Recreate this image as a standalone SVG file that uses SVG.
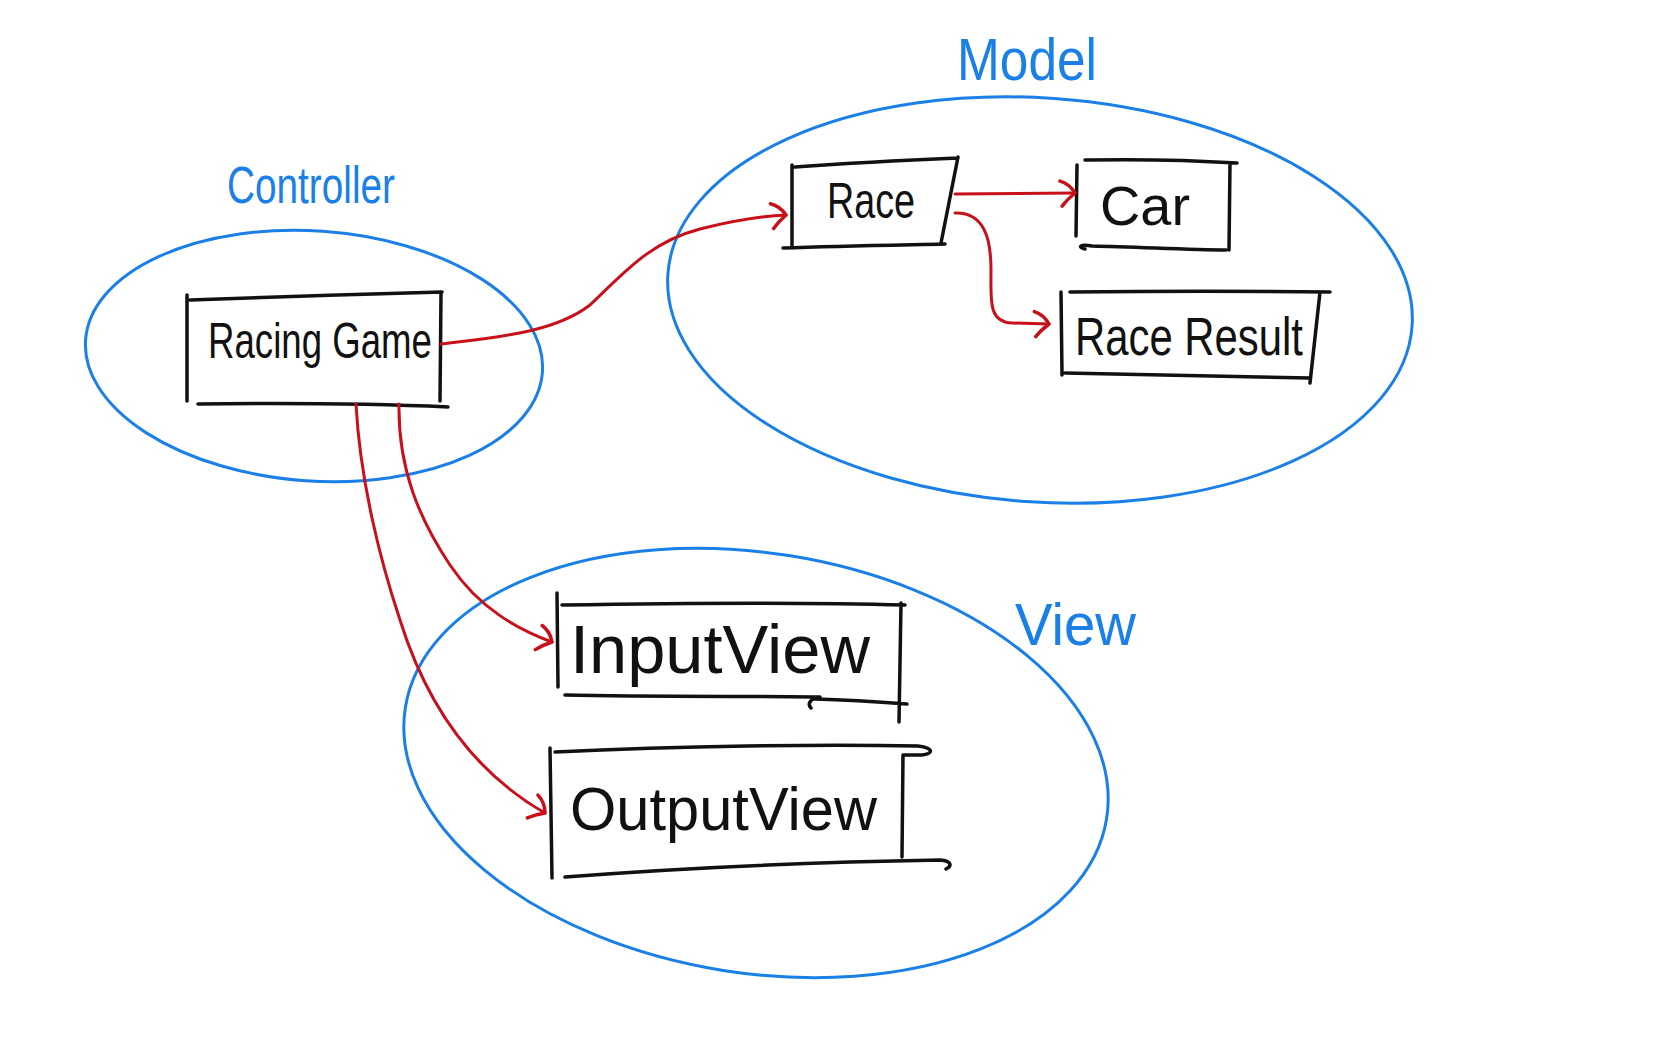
<svg xmlns="http://www.w3.org/2000/svg" width="1662" height="1044" viewBox="0 0 1662 1044">
<defs>
<style>
.grp{fill:none;stroke:#1a7fe6;stroke-width:3}
.glabel{fill:#1a7fe6;font-family:"Liberation Sans",Arial,sans-serif}
.box{fill:none;stroke:#111;stroke-width:3.5;stroke-linecap:round;stroke-linejoin:round}
.txt{fill:#111;font-family:"Liberation Sans",Arial,sans-serif}
.con{fill:none;stroke:#c8101a;stroke-width:3;stroke-linecap:round;stroke-linejoin:round}
</style>
<marker id="arr" markerWidth="34" markerHeight="36" refX="18" refY="18" orient="auto" markerUnits="userSpaceOnUse">
<path d="M3,6 C10,8 15,13 18,18 C13,22 8,27 5,31" fill="none" stroke="#c8101a" stroke-width="3.5" stroke-linecap="round" stroke-linejoin="round"/>
</marker>
</defs>
<rect width="1662" height="1044" fill="#fff"/>

<g id="group-controller">
<ellipse class="grp" cx="314" cy="356" rx="229" ry="125" transform="rotate(4 314 356)"/>
<text class="glabel" x="227" y="203" font-size="52" textLength="168" lengthAdjust="spacingAndGlyphs">Controller</text>
</g>
<g id="group-model">
<ellipse class="grp" cx="1040" cy="300" rx="373" ry="202" transform="rotate(4 1040 300)"/>
<text class="glabel" x="957" y="80" font-size="60" textLength="140" lengthAdjust="spacingAndGlyphs">Model</text>
</g>
<g id="group-view">
<ellipse class="grp" cx="756" cy="763" rx="355" ry="210" transform="rotate(9 756 763)"/>
<text class="glabel" x="1015" y="645" font-size="60" textLength="121" lengthAdjust="spacingAndGlyphs">View</text>
</g>

<g id="node-racing-game">
<path class="box" d="M187,295 L187,401 M190,300 C270,297 360,294 442,292 M441,293 L440,401 M198,404 C290,403 380,404 448,407"/>
<text class="txt" x="208" y="358" font-size="50" textLength="224" lengthAdjust="spacingAndGlyphs">Racing Game</text>
</g>
<g id="node-race">
<path class="box" d="M792,165 L792,247 M795,167 C850,163 910,160 958,158 M958,157 L941,243 M783,248 C840,246 900,245 945,244"/>
<text class="txt" x="827" y="218" font-size="50" textLength="88" lengthAdjust="spacingAndGlyphs">Race</text>
</g>
<g id="node-car">
<path class="box" d="M1077,165 L1076,236 M1085,160 C1140,159 1190,160 1237,163 M1230,163 L1229,250 M1085,249 C1077,247 1080,244 1092,246 C1140,247 1190,250 1226,250"/>
<text class="txt" x="1100" y="225" font-size="56" textLength="90" lengthAdjust="spacingAndGlyphs">Car</text>
</g>
<g id="node-race-result">
<path class="box" d="M1061,292 L1062,375 M1070,292 C1160,291 1250,291 1330,292 M1320,292 L1310,383 M1065,373 C1150,374 1230,376 1310,378"/>
<text class="txt" x="1075" y="355" font-size="54" textLength="228" lengthAdjust="spacingAndGlyphs">Race Result</text>
</g>
<g id="node-input-view">
<path class="box" d="M557,593 L558,687 M562,605 C680,603 800,602 905,605 M901,603 L899,722 M565,695 C650,697 760,696 820,697 C808,699 808,705 811,708 M815,699 C850,700 880,702 907,704"/>
<text class="txt" x="570" y="673" font-size="68" textLength="300" lengthAdjust="spacingAndGlyphs">InputView</text>
</g>
<g id="node-output-view">
<path class="box" d="M550,748 L552,878 M555,752 C680,746 820,744 918,746 C935,748 933,754 922,755 L903,755 M903,755 L902,857 M565,877 C680,868 820,862 940,860 C952,861 952,866 946,869"/>
<text class="txt" x="570" y="830" font-size="62" textLength="307" lengthAdjust="spacingAndGlyphs">OutputView</text>
</g>

<g id="connectors">
<path class="con" marker-end="url(#arr)" d="M441,344 C500,337 555,332 590,305 C625,272 650,242 700,229 C740,219 765,216 786,215"/>
<path class="con" marker-end="url(#arr)" d="M955,194 L1075,193"/>
<path class="con" marker-end="url(#arr)" d="M955,213 C985,212 991,240 991,270 C991,300 988,322 1012,323 L1049,324"/>
<path class="con" marker-end="url(#arr)" d="M399,404 C398,470 420,520 450,565 C480,610 520,630 552,642"/>
<path class="con" marker-end="url(#arr)" d="M356,404 C360,480 380,560 400,620 C425,700 470,770 545,813"/>
</g>
</svg>
